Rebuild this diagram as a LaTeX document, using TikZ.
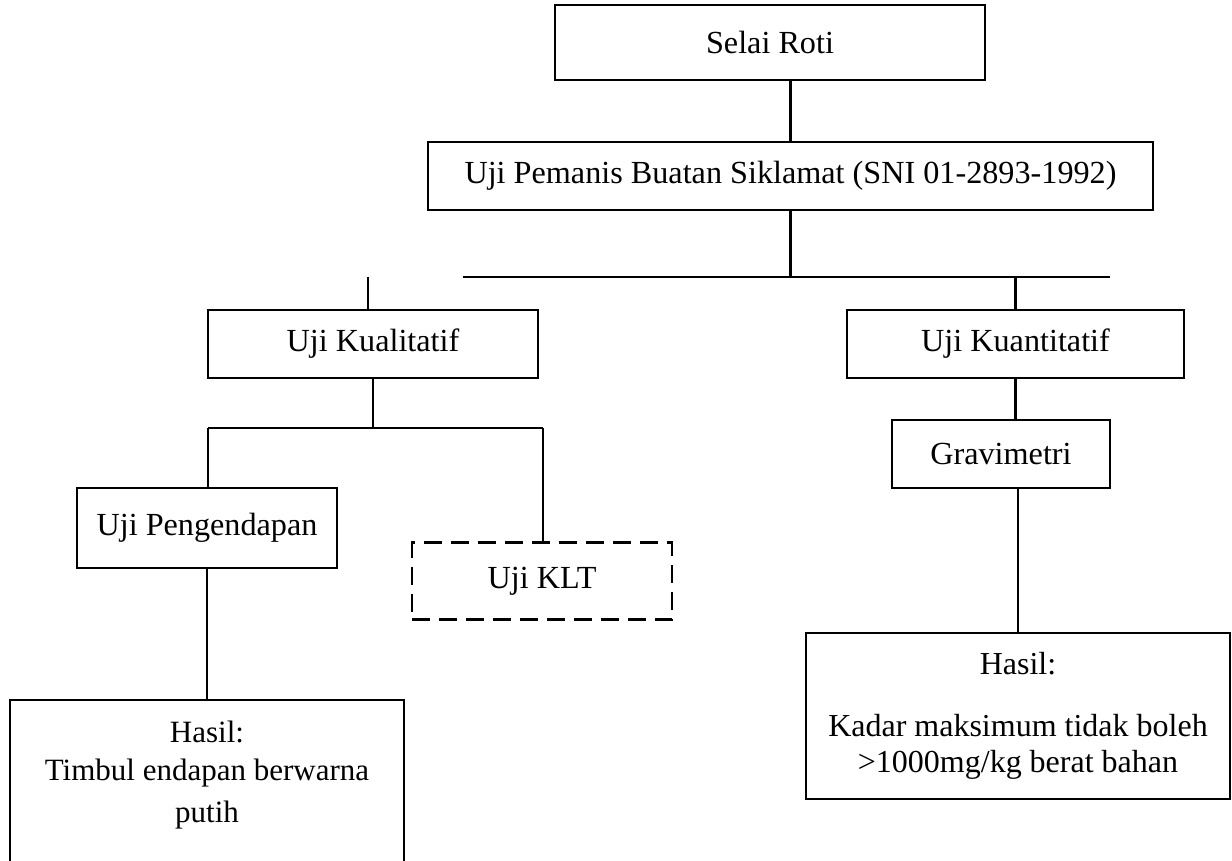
\documentclass[tikz,border=0pt]{standalone}
\usepackage{fontspec}
\setmainfont{Liberation Serif}

\tikzset{
  kotak/.style={draw, line width=1.4pt, inner sep=0pt, align=center,
    font=\fontsize{16.1}{19.5}\selectfont},
  kotakputus/.style={kotak, dash pattern=on 9pt off 4.5pt},
  garis/.style={line width=1.4pt},
}

\begin{document}
\begin{tikzpicture}[x=0.5pt,y=-0.5pt]
			%%%%% START %%%%%
			\useasboundingbox (0,0) rectangle (1232,861);
			
			% atas
			\node[kotak, minimum width=215pt, minimum height=37.5pt] (roti) at (770,42.5) {Selai Roti};
			\node[kotak, minimum width=362.5pt, minimum height=34pt] (siklamat) at (790.5,176) {Uji Pemanis Buatan Siklamat (SNI 01-2893-1992)};
			
			% cabang kiri
			\node[kotak, minimum width=165pt, minimum height=34pt] (kual) at (373,344) {Uji Kualitatif};
			\node[kotak, minimum width=130pt, minimum height=40pt] (endap) at (207,528) {Uji Pengendapan};
			\node[kotakputus, minimum width=130pt, minimum height=38.5pt] (klt) at (542,581) {Uji KLT};
			\node[kotak, minimum width=197pt, minimum height=84pt, font=\fontsize{15.5}{19.5}\selectfont] (hasilA) at (207,784)
				{Hasil:\\[-0.5pt] Timbul endapan berwarna\\[1.5pt] putih\rule[-12.5pt]{0pt}{0pt}};
			
			% cabang kanan
			\node[kotak, minimum width=168.5pt, minimum height=34pt] (kuan) at (1015.5,344) {Uji Kuantitatif};
			\node[kotak, minimum width=109pt, minimum height=34pt] (grav) at (1001,454) {Gravimetri};
			\node[kotak, minimum width=212pt, minimum height=83pt, font=\fontsize{16}{19.5}\selectfont] (hasilB) at (1018,716)
				{Hasil:\\[11.5pt] Kadar maksimum tidak boleh\\[-1.5pt] >1000mg/kg berat bahan};
			
			% garis
			\coordinate (busL) at (463,277);
			\coordinate (busR) at (1110,277);
			\coordinate (stub) at (368,277);
			\coordinate (cabL) at (208,428);
			\coordinate (cabR) at (543,428);
			
			\draw[garis] (siklamat.north) -- (siklamat.north |- roti.south);
			\draw[garis] (siklamat.south) -- (siklamat.south |- busL);
			\draw[garis] (busL) -- (busR);
			\draw[garis] (stub) -- (stub |- kual.north);
			\draw[garis] (kuan.north) -- (kuan.north |- busR);
			
			\draw[garis] (kual.south) -- (kual.south |- cabL);
			\draw[garis] (cabL) -- (cabR);
			\draw[garis] (cabL) -- (cabL |- endap.north);
			\draw[garis] (cabR) -- (cabR |- klt.north);
			\draw[garis] (endap.south) -- (endap.south |- hasilA.north);
			
			\draw[garis] (kuan.south) -- (kuan.south |- grav.north);
			\draw[garis] (hasilB.north) -- (hasilB.north |- grav.south);
			
			%%%%% END %%%%%
\end{tikzpicture}
\end{document}
